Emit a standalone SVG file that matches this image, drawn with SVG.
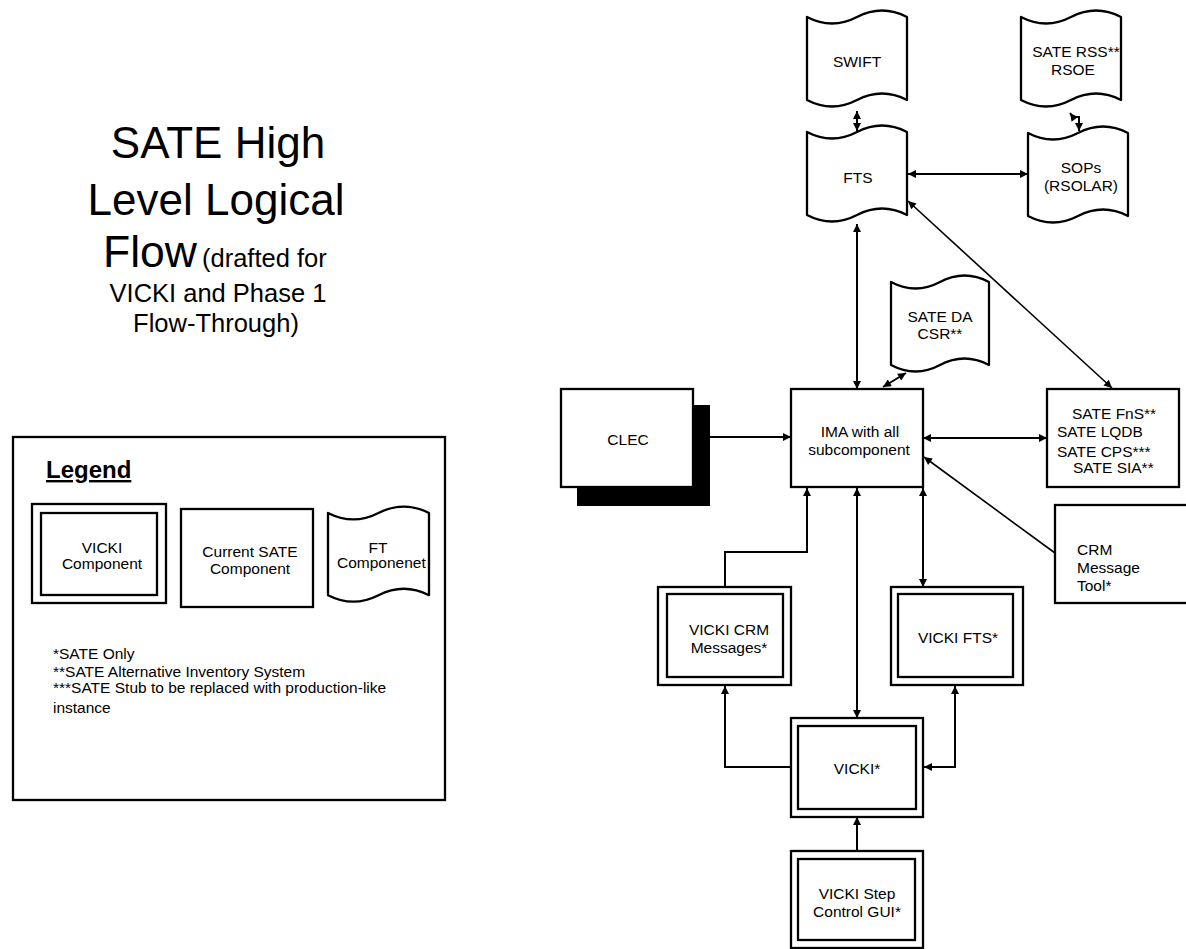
<svg xmlns="http://www.w3.org/2000/svg" width="1186" height="949" viewBox="0 0 1186 949">
<style>
text{font-family:"Liberation Sans",Arial,sans-serif;font-size:15.5px;fill:#000}
.m{text-anchor:middle}
.box{fill:#fff;stroke:#000;stroke-width:2.3}
.tape{fill:#fff;stroke:#000;stroke-width:2.3;stroke-linejoin:round}
.c{fill:none;stroke:#000;stroke-width:2}
.d{fill:none;stroke:#000;stroke-width:1.6}
.ab{marker-start:url(#ah);marker-end:url(#ah)}
.ae{marker-end:url(#ah)}
</style>
<defs>
<marker id="ah" viewBox="0 0 10 10" refX="10" refY="5" markerWidth="9" markerHeight="8" markerUnits="userSpaceOnUse" orient="auto-start-reverse">
<path d="M0,0 L10,5 L0,10 z" fill="#000"/>
</marker>
<path id="tapeShape" d="M0,0 Q25,13 50,0 Q75,-13 100,0 L100,83 Q75,70 50,83 Q25,96 0,83 Z"/>
</defs>
<rect width="1186" height="949" fill="#fff"/>

<g id="title">
<text class="m" x="218" y="158" style="font-size:44px">SATE High</text>
<text class="m" x="216" y="215" style="font-size:44px">Level Logical</text>
<text x="103" y="267" style="font-size:44.5px">Flow</text>
<text x="202" y="267" style="font-size:25.5px">(drafted for</text>
<text class="m" x="218" y="302" style="font-size:25.5px">VICKI and Phase 1</text>
<text class="m" x="216" y="332" style="font-size:25.5px">Flow-Through)</text>
</g>

<g id="legend">
<rect x="13" y="437" width="432" height="363" class="box"/>
<text x="46" y="478" style="font-size:24px;font-weight:bold;text-decoration:underline">Legend</text>
<g id="legend-vicki">
<rect x="32" y="504" width="134" height="99" class="box"/>
<rect x="41" y="513" width="116" height="82" class="box"/>
<text class="m" x="102" y="553">VICKI</text>
<text class="m" x="102" y="569">Component</text>
</g>
<g id="legend-sate">
<rect x="181" y="509" width="132" height="98" class="box"/>
<text class="m" x="250" y="557">Current SATE</text>
<text class="m" x="250" y="574">Component</text>
</g>
<g id="legend-ft">
<use href="#tapeShape" class="tape" transform="translate(328,513) scale(1.01,0.99)"/>
<text class="m" x="378" y="553">FT</text>
<text x="337" y="568">Componenet</text>
</g>
<text x="53" y="659">*SATE Only</text>
<text x="53" y="677">**SATE Alternative Inventory System</text>
<text x="53" y="693">***SATE Stub to be replaced with production-like</text>
<text x="53" y="713">instance</text>
</g>

<g id="swift">
<use href="#tapeShape" class="tape" transform="translate(807,17)"/>
<text class="m" x="857" y="67">SWIFT</text>
</g>
<g id="sate-rss">
<use href="#tapeShape" class="tape" transform="translate(1021,17)"/>
<text class="m" x="1076" y="57">SATE RSS**</text>
<text class="m" x="1073" y="75">RSOE</text>
</g>
<g id="fts">
<use href="#tapeShape" class="tape" transform="translate(807,132)"/>
<text class="m" x="858" y="183">FTS</text>
</g>
<g id="sops">
<use href="#tapeShape" class="tape" transform="translate(1028,133)"/>
<text class="m" x="1081" y="173">SOPs</text>
<text class="m" x="1081" y="191">(RSOLAR)</text>
</g>
<g id="sate-da">
<use href="#tapeShape" class="tape" transform="translate(891,282) scale(0.98,1)"/>
<text class="m" x="940" y="322">SATE DA</text>
<text class="m" x="940" y="339">CSR**</text>
</g>
<g id="clec">
<rect x="577" y="405" width="133" height="101" fill="#000"/>
<rect x="561" y="389" width="132" height="98" class="box"/>
<text class="m" x="628" y="445">CLEC</text>
</g>
<g id="ima">
<rect x="791" y="389" width="132" height="98" class="box"/>
<text class="m" x="860" y="437">IMA with all</text>
<text class="m" x="859" y="455">subcomponent</text>
</g>
<g id="sate-fns">
<rect x="1047" y="389" width="132" height="98" class="box"/>
<text x="1072" y="419">SATE FnS**</text>
<text x="1057" y="437">SATE LQDB</text>
<text x="1057" y="457">SATE CPS***</text>
<text x="1073" y="473">SATE SIA**</text>
</g>
<g id="crm-tool">
<rect x="1055" y="505" width="140" height="98" class="box"/>
<text x="1077" y="555">CRM</text>
<text x="1077" y="573">Message</text>
<text x="1077" y="591">Tool*</text>
</g>
<g id="vicki-crm">
<rect x="658" y="587" width="133" height="98" class="box"/>
<rect x="667" y="594" width="116" height="83" class="box"/>
<text class="m" x="729" y="635">VICKI CRM</text>
<text class="m" x="729" y="653">Messages*</text>
</g>
<g id="vicki-fts">
<rect x="891" y="587" width="132" height="98" class="box"/>
<rect x="898" y="594" width="115" height="83" class="box"/>
<text class="m" x="958" y="643">VICKI FTS*</text>
</g>
<g id="vicki">
<rect x="791" y="718" width="132" height="99" class="box"/>
<rect x="798" y="726" width="118" height="83" class="box"/>
<text class="m" x="857" y="774">VICKI*</text>
</g>
<g id="vicki-step">
<rect x="791" y="851" width="132" height="97" class="box"/>
<rect x="798" y="859" width="117" height="81" class="box"/>
<text class="m" x="857" y="899">VICKI Step</text>
<text class="m" x="857" y="917">Control GUI*</text>
</g>

<g id="connectors">
<line x1="857" y1="111" x2="857" y2="131" class="c ab"/>
<polyline points="1070,113 1073,117 1079,117 1079,131" class="c ab"/>
<line x1="908" y1="174" x2="1028" y2="174" class="c ab"/>
<line x1="857" y1="224" x2="857" y2="389" class="c ab"/>
<line x1="883" y1="387" x2="906" y2="373" class="c ab"/>
<line x1="908" y1="201" x2="1112" y2="388" class="d ab"/>
<line x1="710" y1="437" x2="791" y2="437" class="c ae"/>
<line x1="923" y1="438" x2="1047" y2="438" class="c ab"/>
<line x1="1055" y1="553" x2="924" y2="457" class="d ae"/>
<polyline points="725,587 725,552 807,552 807,488" class="c ae"/>
<line x1="857" y1="488" x2="857" y2="718" class="c ab"/>
<line x1="923" y1="488" x2="923" y2="587" class="c ab"/>
<polyline points="791,767 725,767 725,686" class="c ae"/>
<polyline points="955,686 955,767 924,767" class="c ab"/>
<line x1="857" y1="851" x2="857" y2="817" class="c ae"/>
</g>
</svg>
